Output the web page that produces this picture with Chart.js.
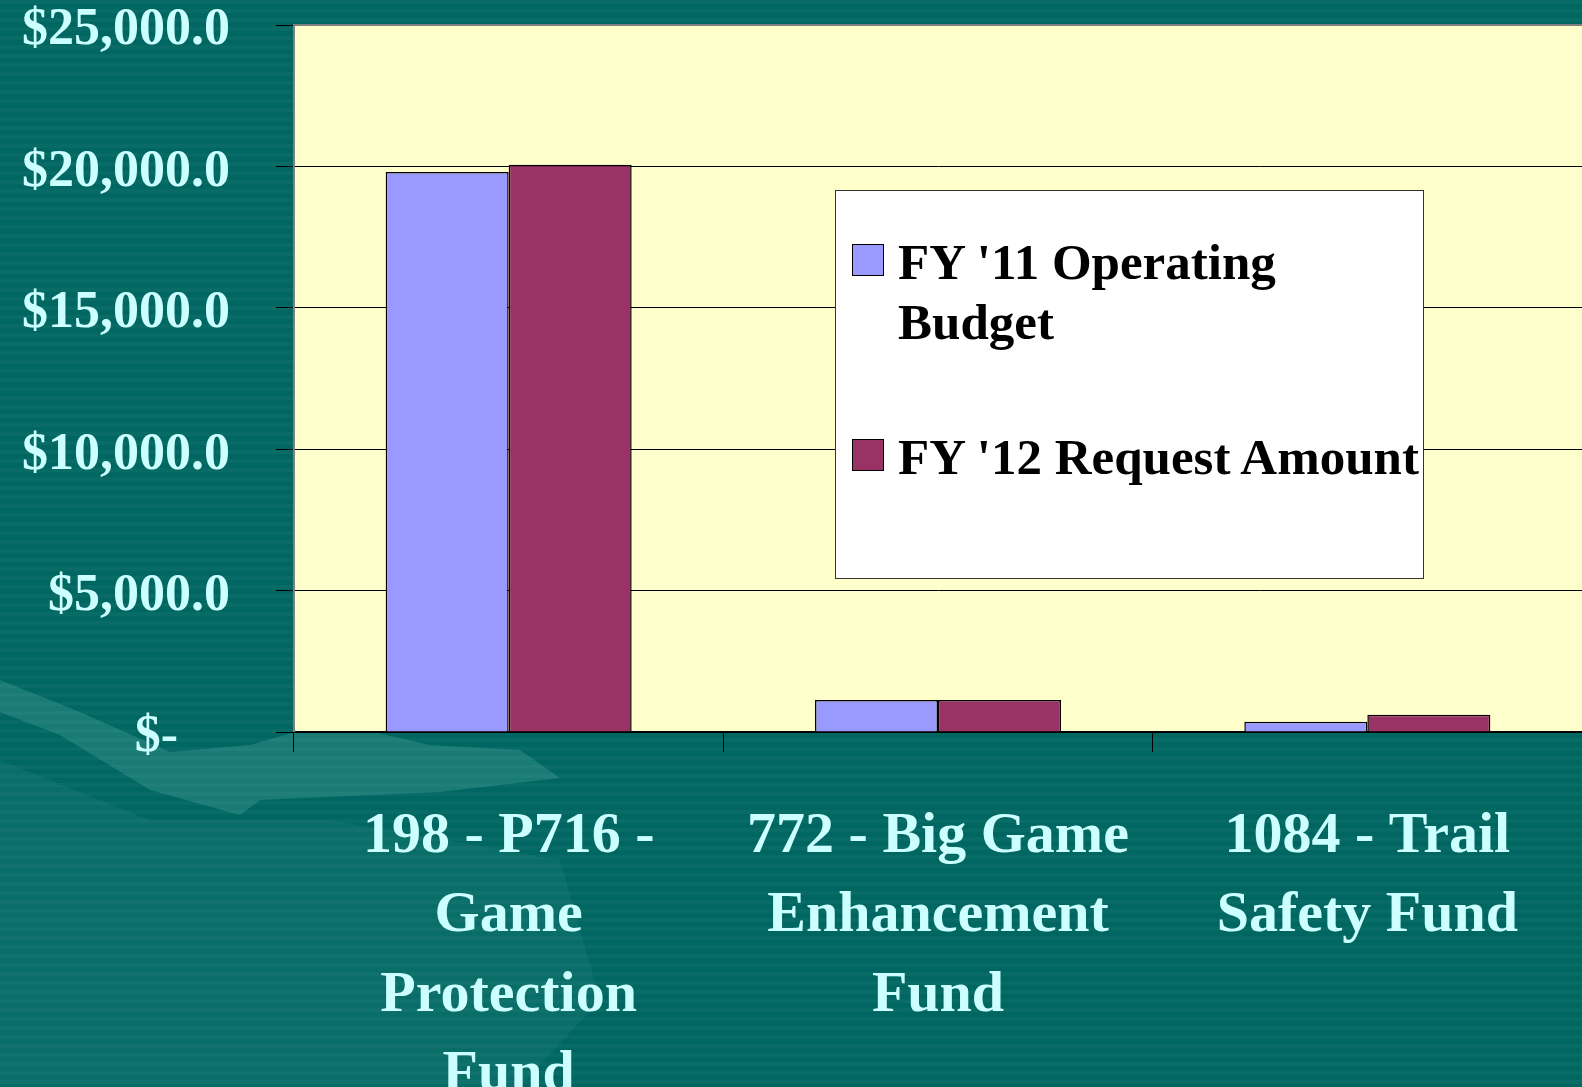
<!DOCTYPE html>
<html>
<head>
<meta charset="utf-8">
<script src="https://cdn.jsdelivr.net/npm/chart.js@4.4.1/dist/chart.umd.min.js"></script>
<style>
    body { margin: 0; background: #006661; }
    #wrap { position: relative; width: 1582px; height: 1087px; overflow: hidden; }
    #grafico { display: block; }
    #legenda {
        position: absolute; left: 835px; top: 190px; width: 589px; height: 389px;
        background: #fff; border: 1px solid #333; box-sizing: border-box;
        font-family: "Liberation Serif", serif; font-weight: bold; font-size: 51px; color: #000;
    }
    .item { position: absolute; left: 62px; line-height: 60px; white-space: nowrap; }
    .caixa { position: absolute; width: 30px; height: 30px; border: 1.5px solid #000; left: 16px; }
</style>
</head>
<body>
<div id="wrap">
    <canvas id="grafico" width="1582" height="1087"></canvas>
    <div id="legenda"></div>
</div>
<script>
// Dados do gráfico
const categorias = [
    ["198 - P716 -", "Game", "Protection", "Fund"],
    ["772 - Big Game", "Enhancement", "Fund"],
    ["1084 - Trail", "Safety Fund"]
]
const nomesSeries = ["FY '11 Operating Budget", "FY '12 Request Amount"]
const orcamentoFY11 = [19800, 1130, 365]
const pedidoFY12 = [20060, 1130, 612]
const ticksY = [0, 5000, 10000, 15000, 20000, 25000]

const coresSeries = ["#9999ff", "#993366"]
const corTexto = "#ccffff"

// legenda em html por cima do gráfico
const legenda = document.getElementById('legenda')
legenda.innerHTML = `
    <div class="caixa" style="top:53px;background:${coresSeries[0]}"></div>
    <div class="item" style="top:41px">FY '11 Operating<br>Budget</div>
    <div class="caixa" style="top:248px;background:${coresSeries[1]}"></div>
    <div class="item" style="top:236px">${nomesSeries[1]}</div>
`

// fundo listrado e área do gráfico amarela
const fundoPlugin = {
    id: 'fundo',
    beforeDraw(chart) {
        const ctx = chart.ctx
        const { width, height } = chart
        ctx.save()
        ctx.fillStyle = '#006661'
        ctx.fillRect(0, 0, width, height)
        ctx.fillStyle = 'rgba(255,255,255,0.035)'
        for (let y = 0; y < height; y += 9) {
            ctx.fillRect(0, y, width, 4)
        }
        // formas decorativas claras
        ctx.fillStyle = 'rgba(120,200,190,0.22)'
        ctx.beginPath()
        ctx.moveTo(0, 680)
        ctx.lineTo(80, 712)
        ctx.lineTo(170, 752)
        ctx.lineTo(250, 745)
        ctx.lineTo(330, 722)
        ctx.lineTo(430, 745)
        ctx.lineTo(520, 750)
        ctx.lineTo(560, 778)
        ctx.lineTo(440, 792)
        ctx.lineTo(260, 800)
        ctx.lineTo(240, 815)
        ctx.lineTo(150, 790)
        ctx.lineTo(60, 735)
        ctx.lineTo(0, 712)
        ctx.closePath()
        ctx.fill()
        ctx.fillStyle = 'rgba(120,200,190,0.08)'
        ctx.beginPath()
        ctx.moveTo(0, 760)
        ctx.lineTo(150, 820)
        ctx.lineTo(330, 820)
        ctx.lineTo(560, 860)
        ctx.lineTo(600, 1000)
        ctx.lineTo(520, 1087)
        ctx.lineTo(0, 1087)
        ctx.closePath()
        ctx.fill()
        const a = chart.chartArea
        ctx.fillStyle = '#ffffcc'
        ctx.fillRect(a.left, a.top, a.right - a.left, a.bottom - a.top)
        ctx.restore()
    },
    afterDatasetsDraw(chart) {
        const ctx = chart.ctx
        const a = chart.chartArea
        ctx.save()
        ctx.strokeStyle = '#808080'
        ctx.lineWidth = 2
        ctx.beginPath()
        ctx.moveTo(a.left, a.bottom)
        ctx.lineTo(a.left, a.top)
        ctx.lineTo(a.right, a.top)
        ctx.stroke()
        ctx.restore()
    }
}

const formatarValor = valor => valor === 0
    ? '$-    '
    : '$' + valor.toLocaleString('en-US', { minimumFractionDigits: 1, maximumFractionDigits: 1 })

const myChart = new Chart(document.getElementById('grafico'), {
    type: 'bar',
    data: {
        labels: categorias,
        datasets: [
            {
                label: nomesSeries[0],
                data: orcamentoFY11,
                backgroundColor: coresSeries[0],
                borderColor: '#000',
                borderWidth: 1.5,
                categoryPercentage: 0.573,
                barPercentage: 1.0
            },
            {
                label: nomesSeries[1],
                data: pedidoFY12,
                backgroundColor: coresSeries[1],
                borderColor: '#000',
                borderWidth: 1.5,
                categoryPercentage: 0.573,
                barPercentage: 1.0
            }
        ]
    },
    options: {
        responsive: false,
        animation: false,
        layout: { padding: { top: 25, right: 0, left: 0, bottom: 0 } },
        plugins: {
            legend: { display: false },
            tooltip: { enabled: false }
        },
        scales: {
            x: {
                afterFit: scale => { scale.height = 355 },
                grid: {
                    drawOnChartArea: false,
                    drawTicks: true,
                    tickLength: 20,
                    color: '#000'
                },
                border: { color: '#000', width: 1.5 },
                ticks: {
                    color: corTexto,
                    padding: 45,
                    maxRotation: 0,
                    autoSkip: false,
                    font: { family: '"Liberation Serif", serif', weight: 'bold', size: 58, lineHeight: 1.37 }
                }
            },
            y: {
                min: 0,
                max: 25000,
                afterFit: scale => {
                    scale.width = 294
                    scale.paddingTop = 0
                    scale.paddingBottom = 0
                },
                afterBuildTicks: scale => { scale.ticks = ticksY.map(v => ({ value: v })) },
                grid: {
                    color: '#000',
                    lineWidth: 1,
                    tickLength: 18
                },
                border: { color: '#000', width: 1 },
                ticks: {
                    color: corTexto,
                    padding: 46,
                    labelOffset: 6,
                    callback: formatarValor,
                    font: { family: '"Liberation Serif", serif', weight: 'bold', size: 52, lineHeight: 1.0 }
                }
            }
        }
    },
    plugins: [fundoPlugin]
})
</script>
</body>
</html>
